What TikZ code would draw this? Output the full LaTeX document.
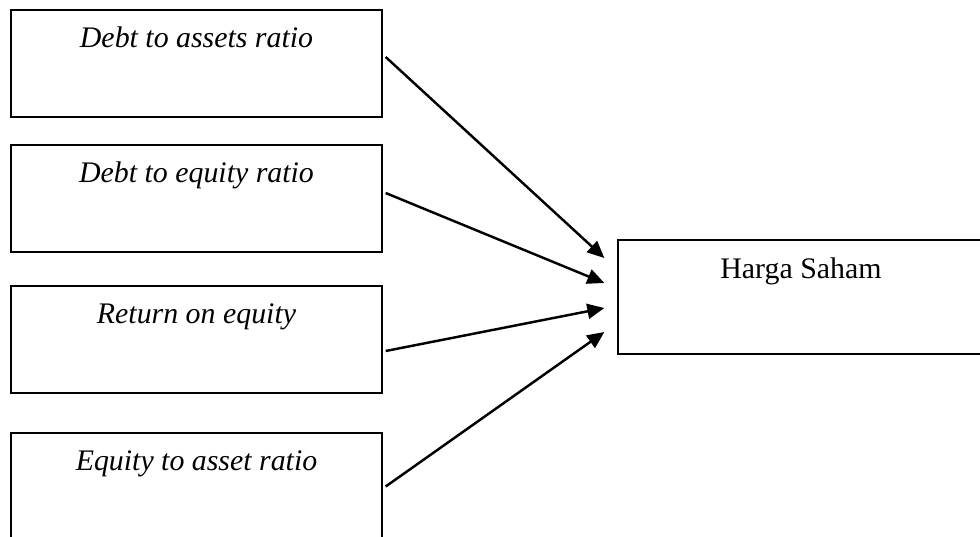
\documentclass[tikz,border=0pt]{standalone}
\usepackage{fontspec}
\setmainfont{Liberation Serif}
\usetikzlibrary{arrows.meta}
\tikzset{%
    varbox/.style={%
        draw, line width=0.8pt, inner sep=0pt,
        minimum width=7.42cm,
        text height=0.74cm, text depth=1.4cm,
        font=\fontsize{17}{19}\selectfont\itshape
    },
    depbox/.style={%
        draw, line width=0.8pt, inner sep=0pt,
        minimum width=7.32cm,
        text height=0.76cm, text depth=1.52cm,
        font=\fontsize{17}{19}\selectfont
    },
    link/.style={%
        line width=1.4pt,
        -{Triangle[length=0.34cm, width=0.3cm]}
    }
}

\begin{document}
\begin{tikzpicture}[x=0.02cm, y=-0.02cm]

    \useasboundingbox (0, 0) rectangle (980, 537);

    % Independent variables
    \node[varbox] (dar) at (196.5, 63.5) {Debt to assets ratio};
    \node[varbox] (der) at (196.5, 198.5) {Debt to equity ratio};
    \node[varbox] (roe) at (196.5, 339.5) {Return on equity};
    \node[varbox] (ear) at (196.5, 486.5) {Equity to asset ratio};

    % Dependent variable
    \node[depbox] (hs) at (801, 297) {Harga Saham};

    % Arrows
    \draw[link] ([shift={(3, -6.5)}] dar.east) -- ([shift={(-13, -39)}] hs.west);
    \draw[link] ([shift={(3, -5.5)}] der.east) -- ([shift={(-13, -14)}] hs.west);
    \draw[link] ([shift={(3, 11.5)}] roe.east) -- ([shift={(-13, 11)}] hs.west);
    \draw[link] ([shift={(3, 0)}] ear.east) -- ([shift={(-13, 35)}] hs.west);

\end{tikzpicture}
\end{document}
